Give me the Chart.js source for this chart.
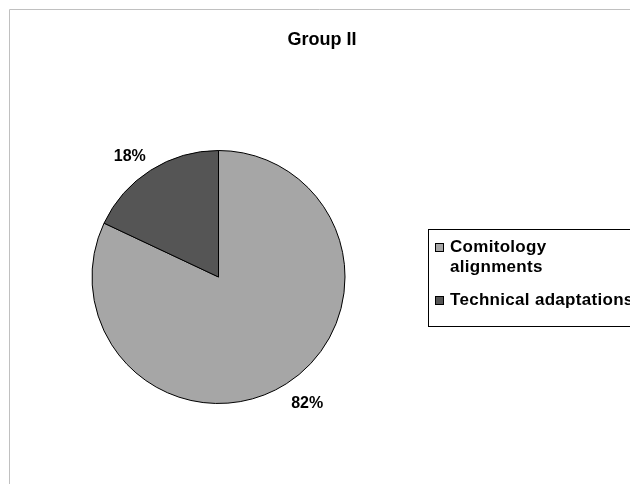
<!DOCTYPE html>
<html lang="en">
<head>
  <meta charset="UTF-8" />
  <title>Group II</title>
  <script src="https://cdn.jsdelivr.net/npm/chart.js"></script>
  <style>
    body { margin: 0; background: #fff; }
    #wrap { position: relative; width: 630px; height: 484px; }
  </style>
</head>
<body>
  <div id="wrap"><canvas id="grafico" width="630" height="484"></canvas></div>

  <script>
    const titulo = 'Group II';
    const categorias = ['Comitology alignments', 'Technical adaptations'];
    const legendaLinhas = [['Comitology', 'alignments'], ['Technical adaptations']];
    const valores = [82, 18];
    const cores = ['#a6a6a6', '#555555'];

    const fonte = 'bold 17px "Liberation Sans", Arial, sans-serif';

    // moldura, titulo, rotulos externos e legenda
    const extras = {
      id: 'extras',
      beforeDraw(chart) {
        const c = chart.ctx;
        c.save();
        c.strokeStyle = '#c0c0c0';
        c.lineWidth = 1;
        c.beginPath();
        c.moveTo(9.5, 484); c.lineTo(9.5, 9.5); c.lineTo(630, 9.5);
        c.stroke();
        c.restore();
      },
      afterDraw(chart) {
        const c = chart.ctx;
        c.save();
        c.fillStyle = '#000';
        c.font = 'bold 18px "Liberation Sans", Arial, sans-serif';
        c.textAlign = 'center';
        c.textBaseline = 'alphabetic';
        c.fillText(titulo, 322, 45);

        // percentuais fora da pizza
        const arcs = chart.getDatasetMeta(0).data;
        const total = valores.reduce((a, b) => a + b, 0);
        c.font = 'bold 16px "Liberation Sans", Arial, sans-serif';
        arcs.forEach((arc, i) => {
          const meio = (arc.startAngle + arc.endAngle) / 2;
          const x = arc.x + Math.cos(meio) * (arc.outerRadius + 39);
          const y = arc.y + Math.sin(meio) * (arc.outerRadius + 20) + 7.5;
          c.fillText(Math.round(valores[i] / total * 100) + '%', x, y);
        });

        // legenda
        c.font = fonte;
        c.letterSpacing = '0.3px';
        c.strokeStyle = '#000';
        c.lineWidth = 1;
        c.strokeRect(428.5, 229.5, 220, 97);
        c.textAlign = 'left';
        let y = 252;
        legendaLinhas.forEach((linhas, i) => {
          c.fillStyle = cores[i];
          c.fillRect(435.5, y - 8.5, 8, 8);
          c.strokeRect(435.5, y - 8.5, 8, 8);
          c.fillStyle = '#000';
          linhas.forEach((t, j) => {
            c.fillText(t, 450, y + j * 20);
          });
          y += linhas.length * 20 + 13;
        });
        c.restore();
      }
    };

    new Chart(document.getElementById('grafico'), {
      type: 'pie',
      data: {
        labels: categorias,
        datasets: [{
          data: valores,
          backgroundColor: cores,
          borderColor: '#000',
          borderWidth: 1
        }]
      },
      options: {
        responsive: false,
        animation: false,
        layout: { padding: { left: 91, right: 284, top: 150, bottom: 80 } },
        plugins: {
          legend: { display: false },
          title: { display: false },
          tooltip: { enabled: false }
        }
      },
      plugins: [extras]
    });
  </script>
</body>
</html>
